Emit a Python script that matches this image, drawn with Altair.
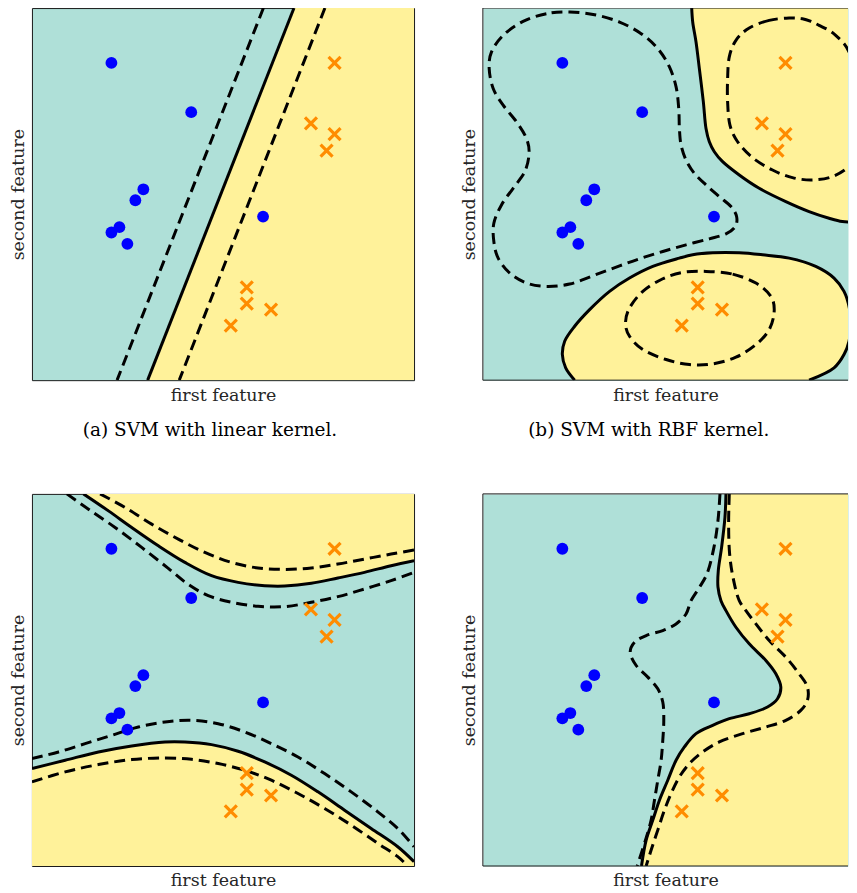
import altair as alt
import pandas as pd

# ---------------- colours / styles ----------------
TEAL = "#afe0d8"
YELLOW = "#fff29a"
BLUE = "#0000ff"
ORANGE = "#ff8c00"
INK = "#1a1a1a"
DASH = [11, 6]
XPATH = "M-1,-1L1,1M1,-1L-1,1"

# ---------------- data (feature units) ----------------
X_MAX = 1149          # full feature range on x
X_MAX_RIGHT = 1098    # part of the range visible in the right column
Y_MAX = 1119

blue_x = [239, 479, 335, 311, 263, 239, 287, 695]
blue_y = [165, 313, 545, 578, 659, 675, 709, 627]
orange_x = [910, 839, 910, 886, 646, 646, 719, 598]
orange_y = [165, 347, 379, 429, 840, 889, 907, 955]

# (a) linear kernel
a_y = [0, 1119]
a_solid_x = [788, 348]
a_dash1_x = [696, 256]
a_dash2_x = [881, 443]

# (b) RBF kernel
b_top_x = [628, 631, 641, 651, 663, 671, 681, 696, 721, 771, 831, 911, 981, 1041, 1081, 1122, 1149]
b_top_y = [0, 42, 102, 182, 282, 362, 402, 432, 462, 502, 542, 582, 612, 632, 642, 644, 645]

b_low_y = [736, 742, 752, 777, 812, 852, 907, 957, 1002, 1042, 1082, 1119]
b_low_left = [691, 631, 591, 511, 441, 381, 321, 276, 246, 239, 249, 276]
b_low_right = [771, 841, 921, 1001, 1056, 1086, 1103, 1106, 1101, 1086, 1056, 981]

b_loop1_x = [261, 191, 121, 61, 26, 19, 31, 61, 101, 131, 139, 126, 91, 56, 33, 33, 46, 81, 131, 191,
             261, 331, 401, 471, 541, 611, 681, 731, 759, 763, 746, 711, 671, 636, 611, 596, 591, 589,
             581, 561, 526, 476, 411, 336]
b_loop1_y = [12, 17, 40, 82, 132, 182, 242, 292, 342, 392, 437, 492, 542, 592, 647, 702, 752, 797, 827,
             837, 830, 805, 779, 754, 732, 712, 694, 679, 657, 627, 597, 567, 532, 497, 457, 412, 362,
             302, 237, 177, 122, 77, 42, 20]

b_loop2_x = [921, 861, 801, 761, 741, 736, 736, 743, 766, 811, 871, 931, 991, 1051, 1101, 1126, 1139,
             1143, 1133, 1116, 1101, 1086, 1061, 1041, 1011, 991, 961]
b_loop2_y = [30, 37, 60, 97, 147, 212, 282, 352, 402, 450, 487, 510, 517, 507, 477, 442, 382, 302, 232,
             172, 132, 107, 82, 67, 52, 42, 32]

b_loop3_x = [671, 751, 821, 866, 876, 861, 821, 761, 691, 621, 551, 481, 441, 429, 441, 481, 541, 601]
b_loop3_y = [792, 800, 827, 867, 912, 967, 1012, 1050, 1070, 1072, 1057, 1027, 987, 947, 902, 852, 814, 795]

# (c) polynomial-like kernel
c_up_solid_x = [155, 230, 300, 380, 460, 540, 620, 700, 760, 840, 920, 1000, 1080, 1149]
c_up_solid_y = [0, 51, 101, 156, 206, 246, 266, 276, 277, 269, 253, 236, 216, 201]
c_up_out_x = [205, 280, 360, 440, 520, 600, 680, 760, 840, 920, 1000, 1080, 1149]
c_up_out_y = [0, 41, 91, 136, 176, 206, 223, 227, 223, 211, 196, 181, 169]
c_up_in_x = [105, 170, 250, 330, 410, 470, 530, 600, 680, 760, 840, 920, 1000, 1080, 1149]
c_up_in_y = [0, 46, 101, 161, 224, 272, 306, 326, 338, 339, 326, 309, 286, 261, 236]

c_lo_solid_x = [0, 100, 200, 300, 400, 460, 540, 620, 700, 780, 860, 940, 1020, 1100, 1149]
c_lo_solid_y = [826, 801, 776, 758, 746, 746, 754, 774, 806, 846, 896, 951, 1006, 1061, 1106]
c_lo_in_x = [0, 80, 160, 240, 320, 400, 480, 560, 640, 720, 800, 880, 960, 1040, 1100, 1149]
c_lo_in_y = [796, 776, 751, 726, 701, 686, 681, 691, 716, 751, 791, 841, 896, 956, 1006, 1061]
c_lo_out_x = [0, 100, 200, 300, 400, 480, 560, 640, 720, 800, 880, 960, 1040, 1100, 1130]
c_lo_out_y = [866, 836, 814, 799, 794, 798, 811, 831, 861, 901, 946, 996, 1051, 1091, 1119]

# (d) kernel with a bulge
d_solid_y = [0, 70, 160, 230, 280, 321, 351, 401, 451, 501, 541, 581, 616, 641, 661, 676, 696, 721,
             761, 801, 861, 921, 981, 1041, 1119]
d_solid_x = [731, 728, 718, 708, 707, 716, 731, 761, 801, 851, 881, 896, 886, 856, 801, 741, 691, 641,
             606, 581, 556, 531, 511, 491, 477]
d_right_y = [0, 90, 180, 250, 321, 351, 391, 441, 491, 541, 581, 621, 651, 681, 701, 721, 746, 776,
             811, 851, 901, 951, 1011, 1071, 1119]
d_right_x = [741, 739, 742, 752, 771, 791, 821, 861, 911, 951, 976, 976, 956, 911, 851, 781, 711, 661,
             621, 591, 566, 546, 526, 506, 491]
d_left_y = [0, 80, 160, 240, 280, 321, 361, 391, 411, 426, 446, 476, 516, 551, 586, 626, 681, 741,
            801, 861, 921, 981, 1041, 1119]
d_left_x = [713, 707, 695, 674, 652, 626, 611, 581, 541, 491, 456, 443, 461, 496, 526, 541, 544, 541,
            536, 526, 516, 506, 489, 464]

# ---------------- encodings ----------------
AX_X = alt.Axis(title="first feature", labels=False, ticks=False, domain=False, grid=False,
                titleFont="DejaVu Serif", titleFontSize=17.5, titleFontWeight="normal",
                titleColor="#262626", titlePadding=6, minExtent=0)
AX_Y = alt.Axis(title="second feature", labels=False, ticks=False, domain=False, grid=False,
                titleFont="DejaVu Serif", titleFontSize=17.5, titleFontWeight="normal",
                titleColor="#262626", titlePadding=4, minExtent=0)
SY = alt.Scale(domain=[0, Y_MAX], reverse=True, nice=False, zero=False)


def sx(xmax):
    return alt.Scale(domain=[0, xmax], nice=False, zero=False)


def ex(xmax, field="x"):
    return alt.X(field, type="quantitative", scale=sx(xmax), axis=AX_X)


def ey(field="y"):
    return alt.Y(field, type="quantitative", scale=SY, axis=AX_Y)


def curve(xs, ys, xmax, dashed=False, closed=False):
    df = pd.DataFrame({"x": xs, "y": ys, "i": list(range(len(xs)))})
    kw = dict(color="black", strokeWidth=3, clip=True,
              interpolate="cardinal-closed" if closed else "catmull-rom")
    if dashed:
        kw["strokeDash"] = DASH
    return alt.Chart(df).mark_line(**kw).encode(x=ex(xmax), y=ey(), order=alt.Order("i:Q"))


def fill_right(xs, ys, xmax):
    df = pd.DataFrame({"x": xs, "y": ys})
    return alt.Chart(df).mark_area(orient="horizontal", color=YELLOW, opacity=1,
                                   interpolate="monotone", clip=True).encode(
        y=ey(), x=ex(xmax), x2=alt.datum(X_MAX))


def fill_vertical(xs, ys, edge, xmax):
    df = pd.DataFrame({"x": xs, "y": ys})
    return alt.Chart(df).mark_area(orient="vertical", color=YELLOW, opacity=1,
                                   interpolate="monotone", clip=True).encode(
        x=ex(xmax), y=ey(), y2=alt.datum(edge))


def points(xmax):
    dfb = pd.DataFrame({"x": blue_x, "y": blue_y})
    dfo = pd.DataFrame({"x": orange_x, "y": orange_y})
    c = alt.Chart(dfb).mark_circle(size=140, color=BLUE, opacity=1).encode(x=ex(xmax), y=ey())
    o = alt.Chart(dfo).mark_point(shape=XPATH, size=144, strokeWidth=3.2, color=ORANGE,
                                  filled=False, opacity=1).encode(x=ex(xmax), y=ey())
    return [c, o]


def frame_rules(xmax):
    top = alt.Chart().mark_rule(color=INK, strokeWidth=1).encode(
        x=alt.X(datum=0, type="quantitative", scale=sx(xmax), axis=AX_X), x2=alt.datum(xmax),
        y=alt.Y(datum=0, type="quantitative", scale=SY, axis=AX_Y))
    bottom = alt.Chart().mark_rule(color=INK, strokeWidth=1).encode(
        x=alt.X(datum=0, type="quantitative", scale=sx(xmax), axis=AX_X), x2=alt.datum(xmax),
        y=alt.Y(datum=Y_MAX, type="quantitative", scale=SY, axis=AX_Y))
    left = alt.Chart().mark_rule(color=INK, strokeWidth=1).encode(
        x=alt.X(datum=0, type="quantitative", scale=sx(xmax), axis=AX_X),
        y=alt.Y(datum=0, type="quantitative", scale=SY, axis=AX_Y), y2=alt.datum(Y_MAX))
    return [top, bottom, left]


def caption(text, dx):
    return alt.TitleParams(text, orient="bottom", font="DejaVu Serif", fontSize=18.5,
                           fontWeight="normal", color="black", offset=17, frame="bounds",
                           anchor="middle", dx=dx)


W_LEFT, W_RIGHT, H = 383, 366, 373

# (a)
pa = alt.layer(
    fill_right(a_solid_x, a_y, X_MAX),
    curve(a_dash1_x, a_y, X_MAX, dashed=True),
    curve(a_dash2_x, a_y, X_MAX, dashed=True),
    curve(a_solid_x, a_y, X_MAX),
    *points(X_MAX),
).properties(width=W_LEFT, height=H, title=caption("(a) SVM with linear kernel.", -2))

# (b)
XR = X_MAX_RIGHT
b_outline_x = list(reversed(b_low_left)) + b_low_right
b_outline_y = list(reversed(b_low_y)) + b_low_y
blob = alt.Chart(pd.DataFrame({"y": b_low_y, "xl": b_low_left, "xr": b_low_right})).mark_area(
    orient="horizontal", color=YELLOW, opacity=1, interpolate="monotone", clip=True).encode(
    y=ey(), x=ex(XR, "xl"), x2="xr:Q")
pb = alt.layer(
    fill_vertical(b_top_x, b_top_y, 0, XR),
    blob,
    curve(b_top_x, b_top_y, XR),
    curve(b_outline_x, b_outline_y, XR),
    curve(b_loop1_x, b_loop1_y, XR, dashed=True, closed=True),
    curve(b_loop2_x, b_loop2_y, XR, dashed=True, closed=True),
    curve(b_loop3_x, b_loop3_y, XR, dashed=True, closed=True),
    *points(XR),
    *frame_rules(XR),
).properties(width=W_RIGHT, height=H, title=caption("(b) SVM with RBF kernel.", -6),
             view=alt.ViewBackground(fill=TEAL, stroke="transparent"))

# (c)
pc = alt.layer(
    fill_vertical(c_up_solid_x, c_up_solid_y, 0, X_MAX),
    fill_vertical(c_lo_solid_x, c_lo_solid_y, Y_MAX, X_MAX),
    curve(c_up_out_x, c_up_out_y, X_MAX, dashed=True),
    curve(c_up_in_x, c_up_in_y, X_MAX, dashed=True),
    curve(c_lo_in_x, c_lo_in_y, X_MAX, dashed=True),
    curve(c_lo_out_x, c_lo_out_y, X_MAX, dashed=True),
    curve(c_up_solid_x, c_up_solid_y, X_MAX),
    curve(c_lo_solid_x, c_lo_solid_y, X_MAX),
    *points(X_MAX),
).properties(width=W_LEFT, height=H)

# (d)
pd_ = alt.layer(
    fill_right(d_solid_x, d_solid_y, XR),
    curve(d_left_x, d_left_y, XR, dashed=True),
    curve(d_right_x, d_right_y, XR, dashed=True),
    curve(d_solid_x, d_solid_y, XR),
    *points(XR),
    *frame_rules(XR),
).properties(width=W_RIGHT, height=H,
             view=alt.ViewBackground(fill=TEAL, stroke="transparent"))

chart = alt.vconcat(
    alt.hconcat(pa, pb, spacing=45),
    alt.hconcat(pc, pd_, spacing=45),
    spacing=53,
).properties(
    padding={"left": 1, "top": -2, "right": 0, "bottom": 0}
).configure_view(fill=TEAL, stroke=INK, strokeWidth=1)

chart.save("out.html", embed_options={"renderer": "svg", "actions": False})
